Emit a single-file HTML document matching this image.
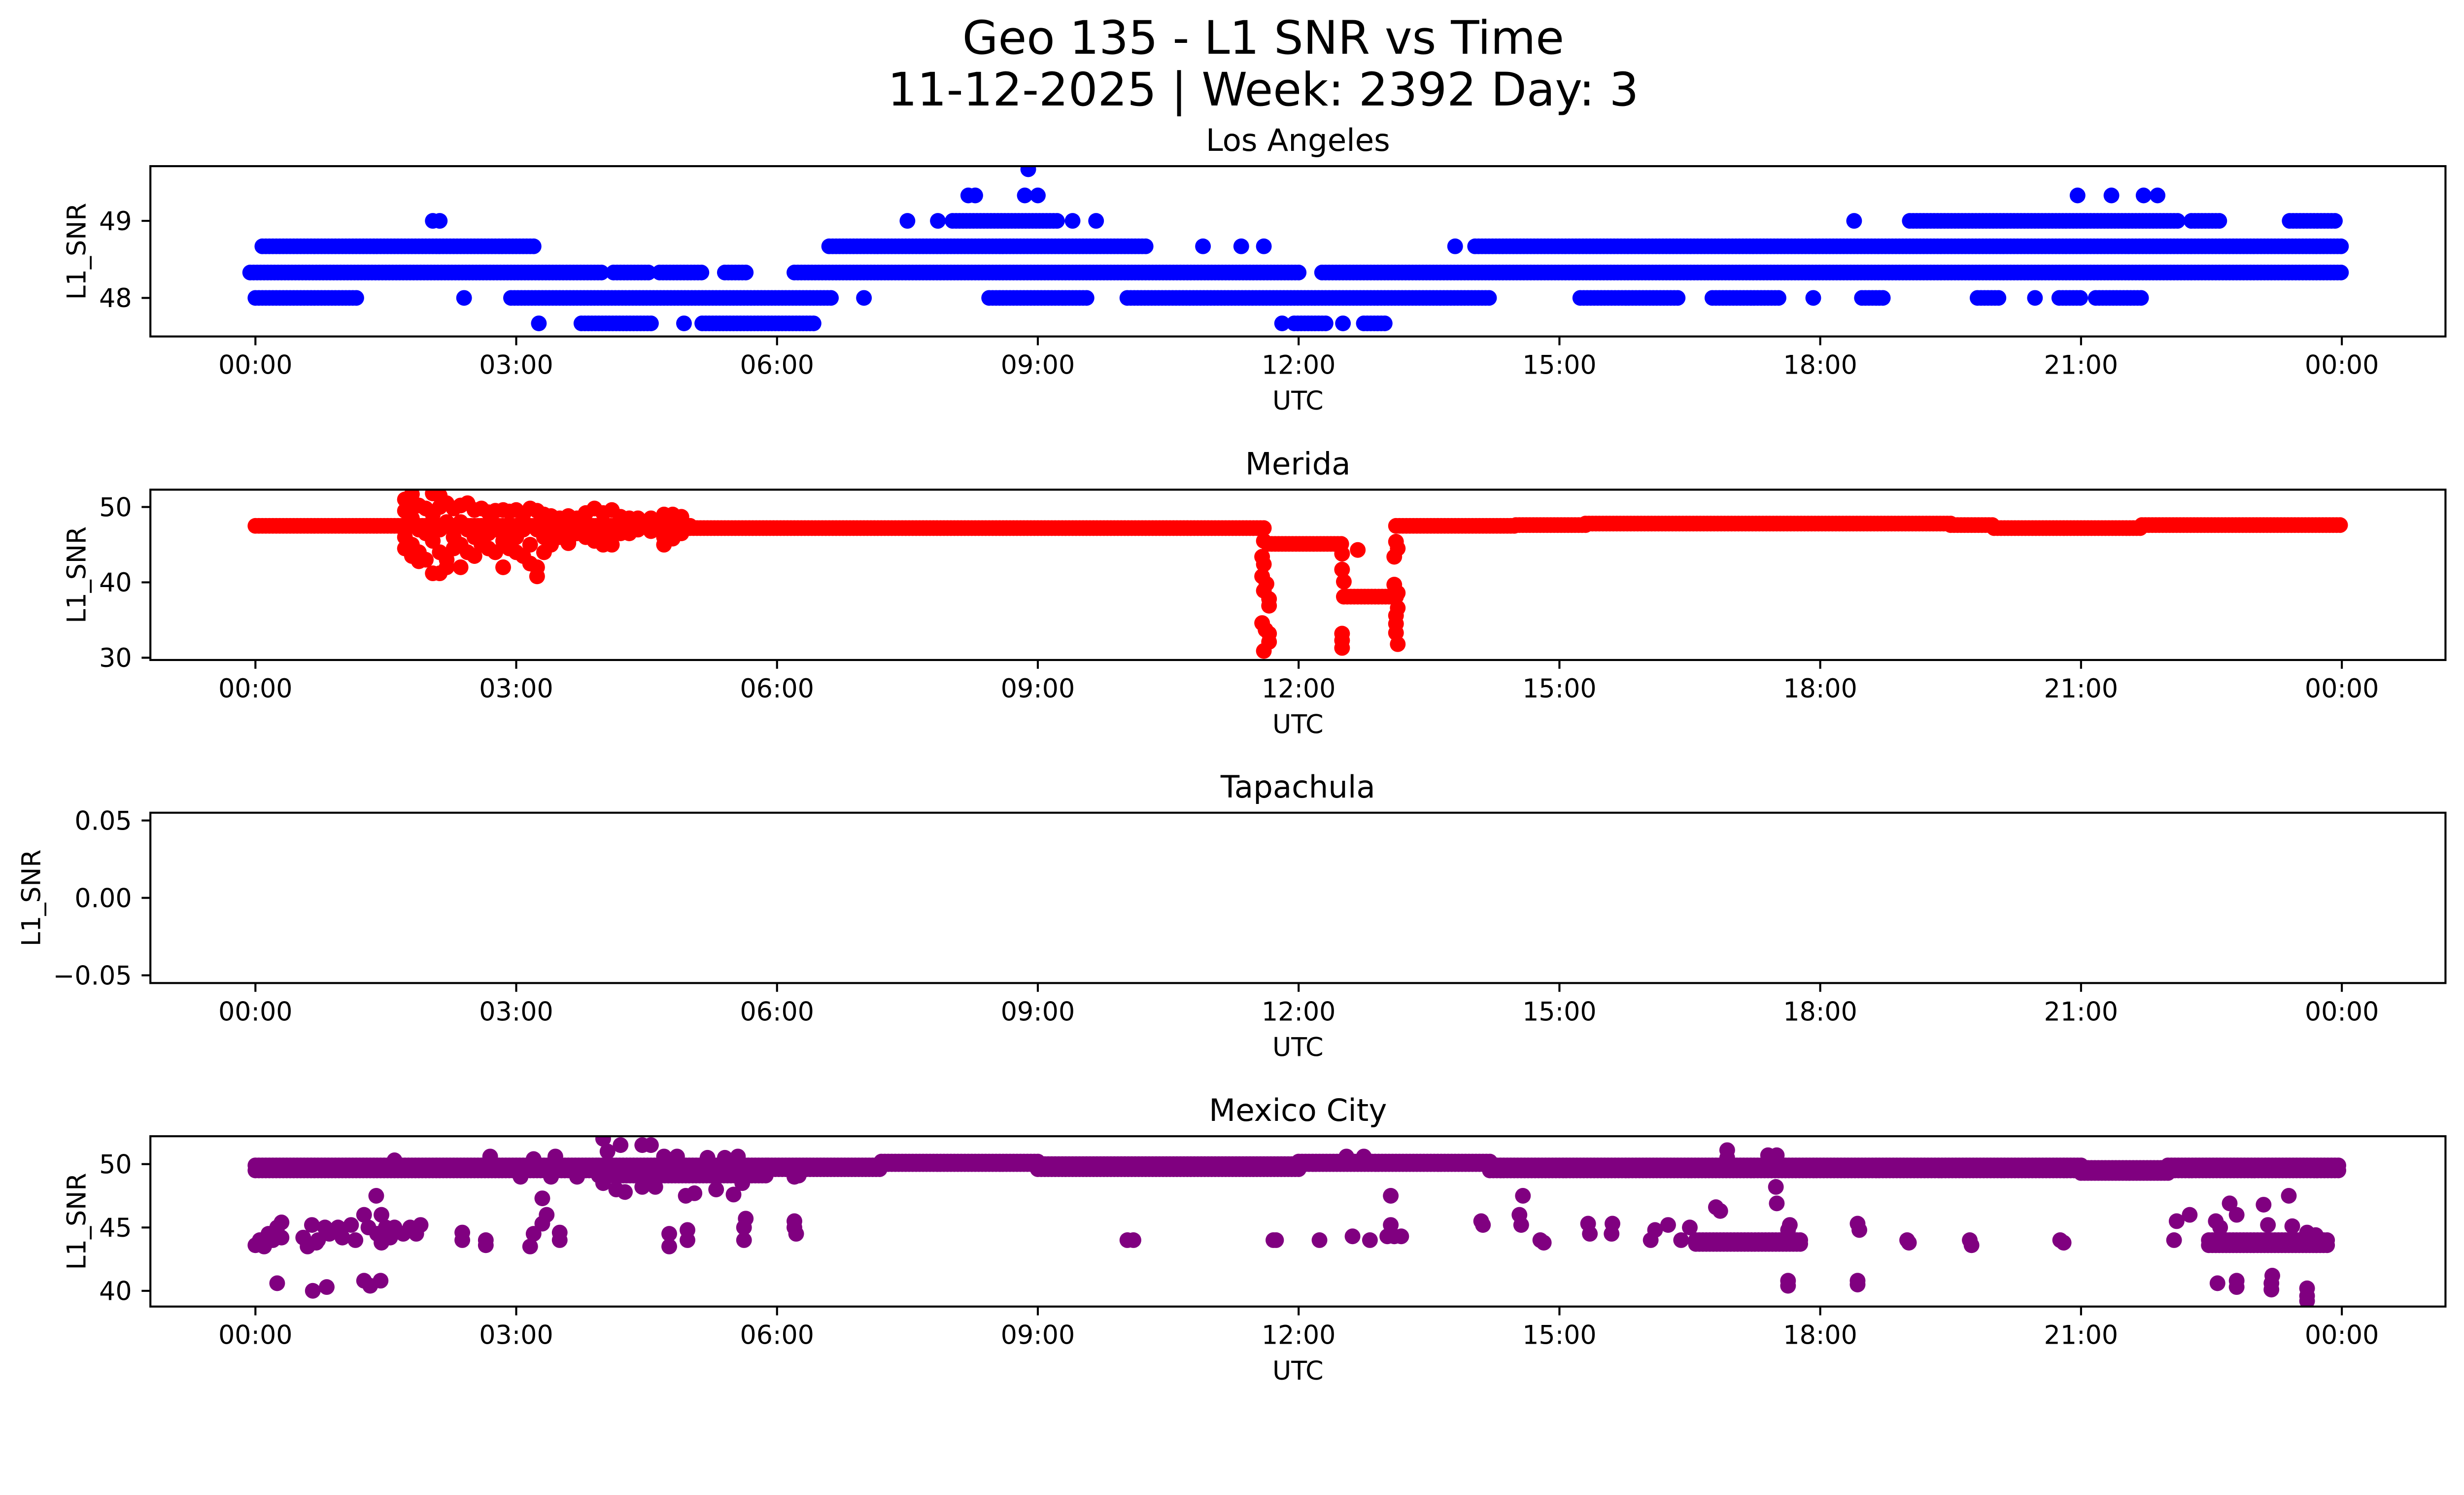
<!DOCTYPE html>
<html><head><meta charset="utf-8"><style>
html,body{margin:0;padding:0;background:#fff;overflow:hidden;}
svg{display:block;width:100vw;height:auto;font-family:"DejaVu Sans","Liberation Sans",sans-serif;}
</style></head><body>
<svg id="fig" width="5325" height="3033" viewBox="0 0 5325 3033" preserveAspectRatio="xMinYMin meet" xmlns="http://www.w3.org/2000/svg">
<rect width="5325" height="3033" fill="#fff"/>
<text x="2730" y="116" font-size="100" text-anchor="middle">Geo 135 - L1 SNR vs Time</text>
<text x="2730" y="228" font-size="100" text-anchor="middle">11-12-2025 | Week: 2392 Day: 3</text>
<g id="plots"></g>
</svg>
<script>
// ---------- data ----------
const xTickHours = [0,3,6,9,12,15,18,21,24];
const xTickLabels = ["00:00","03:00","06:00","09:00","12:00","15:00","18:00","21:00","00:00"];
const stationNames = ["Los Angeles","Merida","Tapachula","Mexico City"];
const stationColors = ["#0000ff","#ff0000","#800080","#800080"];
const yMins = [47.50, 29.7, -0.055, 38.76];
const yMaxs = [49.71, 52.3, 0.055, 52.2];
const yTicks0 = [48,49];
const yTicks1 = [30,40,50];
const yTicks2 = [-0.05,0.00,0.05];
const yTicks3 = [40,45,50];
const yTickLabels0 = ["48","49"];
const yTickLabels1 = ["30","40","50"];
const yTickLabels2 = ["\u22120.05","0.00","0.05"];
const yTickLabels3 = ["40","45","50"];

// Los Angeles: dense runs (start h, end h, value)
const laRunStart = [8.89,8.2,8.28,8.85,9.0,20.96,21.35,21.72,21.88, 2.04,2.12,7.5,7.85,8.02,9.4,9.67,18.39,19.03,22.27,23.4,
  0.08,6.6,10.9,11.34,11.6,13.8,14.03, -0.06,4.12,4.65,5.4,6.2,12.27,
  0,2.4,2.94,7.0,8.44,10.03,15.24,16.76,17.92,18.48,19.81,20.47,20.75,21.17,
  3.26,3.75,4.93,5.14,11.81,11.95,12.51,12.75];
const laRunEnd = [8.89,8.2,8.28,8.85,9.0,20.96,21.35,21.72,21.88, 2.04,2.12,7.5,7.85,9.22,9.4,9.67,18.39,22.11,22.62,23.95,
  3.22,10.24,10.9,11.34,11.6,13.8,24.0, 4.0,4.53,5.14,5.67,12.0,24.0,
  1.18,2.4,6.65,7.0,9.58,14.19,16.37,17.54,17.92,18.72,20.08,20.47,21.02,21.72,
  3.26,4.57,4.93,6.44,11.81,12.32,12.51,13.02];
const laRunValue = [49.67,49.33,49.33,49.33,49.33,49.33,49.33,49.33,49.33, 49,49,49,49,49,49,49,49,49,49,49,
  48.67,48.67,48.67,48.67,48.67,48.67,48.67, 48.33,48.33,48.33,48.33,48.33,48.33,
  48,48,48,48,48,48,48,48,48,48,48,48,48,48,
  47.67,47.67,47.67,47.67,47.67,47.67,47.67,47.67];

// Merida: base runs
const merRunStart = [0,5.0,11.65,12.52,13.12,14.5,15.3,19.5,20.0,21.7];
const merRunEnd   = [5.0,11.6,12.52,13.12,14.5,15.3,19.5,20.0,21.7,23.98];
const merRunValue = [47.5,47.2,45.1,38.1,47.5,47.6,47.8,47.6,47.2,47.6];
// Merida: scattered points
const merPtT = [1.72,1.72,1.72,1.72, 1.80,1.80,1.80,1.80,1.80, 1.88,1.88,1.88,1.88, 1.96,1.96,1.96,
 2.04,2.04,2.04,2.04, 2.12,2.12,2.12,2.12,2.12, 2.20,2.20,2.20,2.20, 2.28,2.28,2.28, 2.36,2.36,2.36,2.36,
 2.44,2.44,2.44, 2.52,2.52,2.52, 2.60,2.60,2.60, 2.68,2.68,2.68, 2.76,2.76,2.76, 2.85,2.85,2.85,
 2.92,2.92,2.92, 3.00,3.00,3.00, 3.08,3.08,3.08, 3.16,3.16,3.16, 3.24,3.24,3.24,3.24, 3.32,3.32,3.32,
 3.40,3.40,3.40, 3.50,3.50, 3.60,3.60,3.60, 3.70,3.70, 3.80,3.80, 3.90,3.90,3.90, 4.00,4.00,4.00,
 4.10,4.10,4.10, 4.20,4.20, 4.30,4.30, 4.40,4.40, 4.55,4.55, 4.70,4.70,4.70, 4.80,4.80, 4.90,4.90,
 11.58,11.6,11.58,11.63,11.6,11.66,11.66,11.58,11.62,11.66,11.66,11.6,11.6,
 12.68,12.5,12.5,12.52,12.5,12.5,12.5,
 13.1,13.14,13.14,13.12,13.12,13.12,13.14,13.1,13.12,13.14];
const merPtV = [51.0,49.5,46.0,44.5, 51.7,50.0,48.5,45.0,43.5, 50.2,47.0,44.0,42.8, 49.8,46.5,43.0,
 51.8,49.0,45.5,41.2, 51.5,50.0,47.0,44.0,41.2, 50.5,48.0,43.0,42.0, 49.8,46.0,44.5, 50.2,48.0,45.0,42.0,
 50.5,47.0,44.0, 49.6,46.0,43.5, 49.8,47.5,45.0, 49.3,46.5,44.5, 49.5,47.0,44.0, 49.6,45.5,42.0,
 49.4,47.0,44.5, 49.6,46.0,44.0, 49.0,47.0,43.5, 49.8,45.0,42.5, 49.5,47.0,42.0,40.8, 49.0,46.0,44.0,
 48.8,46.0,45.0, 48.5,46.0, 48.8,45.5,45.2, 48.5,46.5, 49.2,46.0, 49.8,46.0,45.5, 49.2,47.0,45.0,
 49.6,46.0,45.0, 48.7,46.5, 48.5,46.5, 48.5,47.0, 48.5,46.8, 49.0,46.0,45.0, 49.0,45.8, 48.7,46.5,
 43.4,42.4,40.8,39.8,38.9,37.8,36.9,34.6,33.7,33.2,32.1,30.9,45.5,
 44.3,43.8,41.7,40.1,33.2,32.3,31.3,
 39.7,38.6,36.6,35.6,34.5,33.3,31.8,43.4,45.4,44.5];

// Tapachula: no data
const tapPtT = [];
const tapPtV = [];

// Mexico City: runs
const mexRunStart = [0,0,3.95,3.95,5.9,5.9,7.2,7.2,9.0,9.0,12.0,12.0,14.2,14.2,21.0,21.0,22.0,22.0, 16.57,16.57,22.47,22.47];
const mexRunEnd   = [3.95,3.95,5.9,5.9,7.2,7.2,9.0,9.0,12.0,12.0,14.2,14.2,21.0,21.0,22.0,22.0,23.98,23.98, 17.77,17.77,23.83,23.83];
const mexRunValue = [49.9,49.5,49.9,49.1,49.9,49.6,50.2,50.0,50.0,49.6,50.2,50.0,49.9,49.5,49.7,49.3,49.9,49.5, 44.0,43.7,44.0,43.6];
// Mexico City: scattered points
const mexPtT = [4.0,4.05,4.2,4.45,4.55,4.7,4.85,5.2,5.4,5.55,2.7,3.2,3.45,1.6,
 4.0,4.15,4.25,4.45,4.6,4.95,5.05,5.3,5.5,5.6,3.05,3.4,3.7,6.2,6.25,
 0.0,0.05,0.1,0.15,0.2,0.25,0.3,0.3,
 0.55,0.6,0.65,0.72,0.8,0.85,0.95,1.0,1.1,1.15,1.25,1.3,1.4,1.45,1.5,1.55,1.6,1.7,1.78,1.85,1.9,1.45,0.7,
 1.39,2.38,2.38,2.65,2.65,3.16,3.2,3.3,3.3,3.35,3.5,3.5,
 4.76,4.76,4.97,4.97,5.62,5.62,5.64,6.2,6.2,6.22,10.03,10.1,11.71,
 0.25,0.66,0.82,1.25,1.44,1.32,
 11.74,12.24,12.62,12.82,13.02,13.06,13.1,13.18,13.06,14.1,14.12,14.54,14.56,14.58,14.78,14.82,15.33,15.35,15.61,15.6,
 16.05,16.1,16.25,16.4,16.5,16.85,16.8,17.49,17.5,17.65,17.63,18.43,18.45,19.0,19.02,19.72,19.74,20.76,20.8,
 22.07,22.1,22.25,22.71,22.79,23.1,23.39,23.43,22.55,22.6,23.15,23.6,23.7,
 17.63,17.63,18.43,18.43,22.57,22.79,22.79,23.19,23.2,23.19,23.6,23.6,23.6,
 16.93,16.93,17.4,17.5,12.55,12.75];
const mexPtV = [52.0,51.0,51.5,51.5,51.5,50.6,50.6,50.5,50.5,50.6,50.6,50.4,50.6,50.3,
 48.5,48.0,47.8,48.2,48.2,47.5,47.7,48.0,47.6,48.5,49.0,49.0,49.0,49.0,49.1,
 43.6,44.0,43.5,44.5,44.0,45.0,44.2,45.4,
 44.2,43.5,45.2,44.0,45.0,44.5,45.0,44.2,45.2,44.0,46.0,45.0,44.5,46.0,45.0,44.2,45.0,44.5,45.0,44.5,45.2,43.8,43.8,
 47.5,44.0,44.6,44.0,43.6,43.5,44.5,45.3,47.3,46.0,44.0,44.6,
 43.5,44.5,44.0,44.8,44.0,45.0,45.7,45.0,45.5,44.5,44.0,44.0,44.0,
 40.6,40.0,40.3,40.8,40.8,40.4,
 44.0,44.0,44.3,44.0,44.3,45.2,44.3,44.3,47.5,45.5,45.2,46.0,45.2,47.5,44.0,43.8,45.3,44.5,45.3,44.5,
 44.0,44.8,45.2,44.0,45.0,46.3,46.6,48.2,46.9,45.2,44.8,45.3,44.8,44.0,43.8,44.0,43.6,44.0,43.8,
 44.0,45.5,46.0,46.9,46.0,46.8,47.5,45.1,45.5,45.0,45.2,44.6,44.4,
 40.8,40.4,40.8,40.5,40.6,40.8,40.3,40.6,41.2,40.1,39.6,39.2,40.2,
 51.1,50.5,50.7,50.7,50.6,50.6];

// ---------- layout ----------
const NS = "http://www.w3.org/2000/svg";
const AX_L = 325, AX_R = 5285, AX_H = 368;
const panelTops = [359, 1058, 1756, 2455];
const X0 = 552, PX_PER_H = 187.875;
const R = 17, STEP = 0.04;
const ylabelX = [185, 185, 87, 185];
const yTicksAll = [yTicks0, yTicks1, yTicks2, yTicks3];
const yTickLabelsAll = [yTickLabels0, yTickLabels1, yTickLabels2, yTickLabels3];
const runsAll = [[laRunStart,laRunEnd,laRunValue],[merRunStart,merRunEnd,merRunValue],[[],[],[]],[mexRunStart,mexRunEnd,mexRunValue]];
const ptsAll = [[[],[]],[merPtT,merPtV],[tapPtT,tapPtV],[mexPtT,mexPtV]];

function xScale(h){ return X0 + h * PX_PER_H; }
function yScaleFor(i){
  const top = panelTops[i], lo = yMins[i], hi = yMaxs[i];
  return v => top + (hi - v) / (hi - lo) * AX_H;
}
function mk(tag, attrs){
  const e = document.createElementNS(NS, tag);
  for (const k in attrs) e.setAttribute(k, attrs[k]);
  return e;
}
const root = document.getElementById('plots');

for (let i = 0; i < 4; i++) {
  const top = panelTops[i], bot = top + AX_H, ys = yScaleFor(i);
  const g = mk('g', {});
  
  
  root.appendChild(g);

  const clipId = 'clip' + i;
  const cp = mk('clipPath', {id: clipId});
  cp.appendChild(mk('rect', {x: AX_L, y: top, width: AX_R - AX_L, height: AX_H}));
  g.appendChild(cp);

  const marks = mk('g', {fill: stationColors[i], 'clip-path': 'url(#' + clipId + ')'});
  
  
  g.appendChild(marks);

  const [rs, re, rv] = runsAll[i];
  for (let k = 0; k < rs.length; k++) {
    for (let h = rs[k]; h <= re[k] + 1e-9; h += STEP) {
      const c = mk('circle', {cx: xScale(h).toFixed(1), cy: ys(rv[k]).toFixed(1), r: R});
      
      
      marks.appendChild(c);
    }
  }
  const [pt, pv] = ptsAll[i];
  for (let k = 0; k < pt.length; k++) {
    const c = mk('circle', {cx: xScale(pt[k]).toFixed(1), cy: ys(pv[k]).toFixed(1), r: R});
    
    
    marks.appendChild(c);
  }

  const fr = mk('rect', {x: AX_L, y: top, width: AX_R - AX_L, height: AX_H, fill: 'none', stroke: '#000', 'stroke-width': 4.4});
  
  
  g.appendChild(fr);

  for (let k = 0; k < xTickHours.length; k++) {
    const x = xScale(xTickHours[k]);
    const tl = mk('line', {x1: x, y1: bot, x2: x, y2: bot + 19, stroke: '#000', 'stroke-width': 4.4});
    
    
    g.appendChild(tl);
    const tx = mk('text', {x: x, y: bot + 81, 'font-size': 55.6, 'text-anchor': 'middle'});
    tx.textContent = xTickLabels[k];
    
    
    g.appendChild(tx);
  }
  const yt = yTicksAll[i], ytl = yTickLabelsAll[i];
  for (let k = 0; k < yt.length; k++) {
    const y = ys(yt[k]);
    const tl = mk('line', {x1: AX_L - 19, y1: y, x2: AX_L, y2: y, stroke: '#000', 'stroke-width': 4.4});
    
    
    g.appendChild(tl);
    const tx = mk('text', {x: 285, y: y + 20, 'font-size': 55.6, 'text-anchor': 'end'});
    tx.textContent = ytl[k];
    
    
    g.appendChild(tx);
  }
  const xl = mk('text', {x: (AX_L + AX_R) / 2, y: bot + 158, 'font-size': 55.6, 'text-anchor': 'middle'});
  xl.textContent = 'UTC';
  
  
  g.appendChild(xl);
  const yc = top + AX_H / 2;
  const yl = mk('text', {x: ylabelX[i], y: yc, 'font-size': 55.6, 'text-anchor': 'middle', transform: 'rotate(-90 ' + ylabelX[i] + ' ' + yc + ')'});
  yl.textContent = 'L1_SNR';
  
  
  g.appendChild(yl);
  const tt = mk('text', {x: (AX_L + AX_R) / 2, y: top - 33, 'font-size': 66.7, 'text-anchor': 'middle'});
  tt.textContent = stationNames[i];
  
  
  g.appendChild(tt);
}
</script>
</body></html>
